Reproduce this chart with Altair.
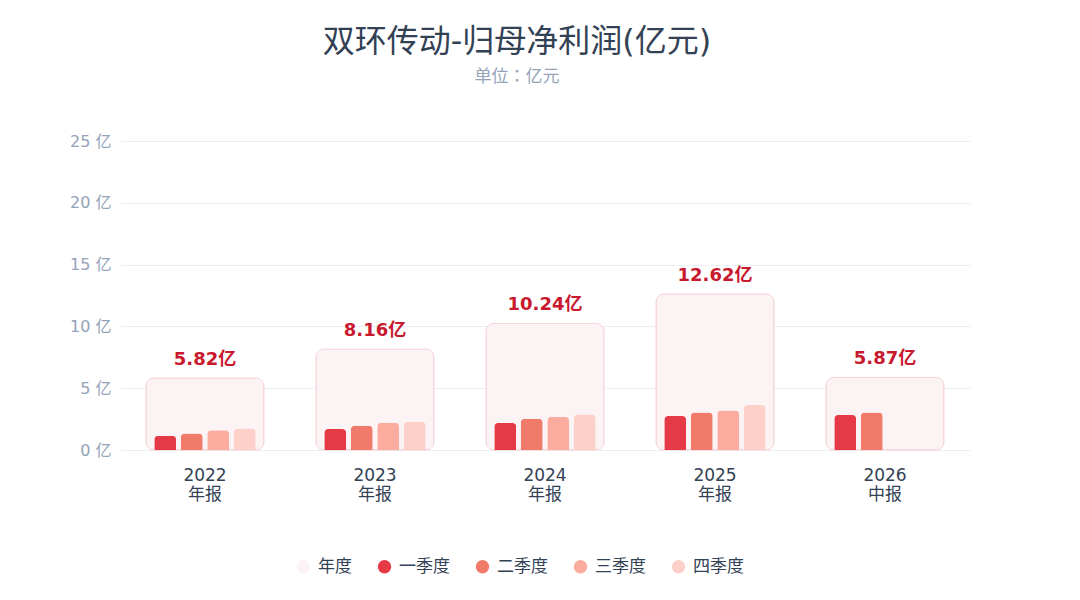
import altair as alt
import pandas as pd

years = ["2022", "2023", "2024", "2025", "2026"]
periods = ["年报", "年报", "年报", "年报", "中报"]
annual = [5.82, 8.16, 10.24, 12.62, 5.87]
quarters = ["一季度", "二季度", "三季度", "四季度"]
q1 = [1.16, 1.69, 2.19, 2.75, 2.83]
q2 = [1.33, 1.97, 2.52, 3.03, 3.04]
q3 = [1.60, 2.21, 2.66, 3.20, None]
q4 = [1.73, 2.29, 2.87, 3.64, None]

series_names = ["年度"] + quarters
series_colors = ["#fcf3f4", "#e63946", "#f07b6a", "#fcab9f", "#fdd0ca"]

cats = [f"{y} {p}" for y, p in zip(years, periods)]

annual_df = pd.DataFrame({
    "cat": cats,
    "value": annual,
    "series": ["年度"] * len(cats),
    "label": [f"{v:.2f}亿" for v in annual],
})

rows = []
for i, c in enumerate(cats):
    for qn, arr in zip(quarters, [q1, q2, q3, q4]):
        if arr[i] is not None:
            rows.append({"cat": c, "quarter": qn, "value": arr[i]})
q_df = pd.DataFrame(rows)

font = "DejaVu Sans, Noto Sans CJK JP, sans-serif"

x_enc = alt.X(
    "cat:N",
    sort=cats,
    scale=alt.Scale(domain=cats, paddingInner=0.372, paddingOuter=0.186),
    axis=alt.Axis(
        title=None, labelAngle=0, ticks=False, domain=False,
        labelExpr="split(datum.label, ' ')", labelFontSize=17,
        labelColor="#334155", labelPadding=17, labelLineHeight=19,
        labelFont=font,
    ),
)
y_enc = alt.Y(
    "value:Q",
    scale=alt.Scale(domain=[0, 25]),
    axis=alt.Axis(
        title=None, values=[0, 5, 10, 15, 20, 25], ticks=False, domain=False,
        labelExpr="datum.value + ' 亿'", labelFontSize=16, labelColor="#94a3b8",
        labelPadding=9, gridColor="#eceef3", labelFont=font,
    ),
)
color_scale = alt.Scale(domain=series_names, range=series_colors)

box = alt.Chart(annual_df).mark_bar(
    width=alt.RelativeBandSize(1.105),
    cornerRadius=8,
    stroke="#f6d3d8",
    strokeWidth=1,
).encode(
    x=x_enc,
    y=y_enc,
    color=alt.Color(
        "series:N", scale=color_scale,
        legend=alt.Legend(
            title=None, orient="none", direction="horizontal",
            legendX=175, legendY=417, symbolType="circle", symbolSize=180,
            symbolStrokeWidth=0, labelFontSize=17, labelColor="#334155",
            labelFont=font, labelOffset=6, columnPadding=24, padding=0,
        ),
    ),
)

labels = alt.Chart(annual_df).mark_text(
    fontSize=18, fontWeight="bold", color="#c8192e", dy=-13,
    baseline="alphabetic", font=font,
).encode(x=x_enc, y=y_enc, text="label:N")

qbars = alt.Chart(q_df).mark_bar(
    cornerRadiusTopLeft=4, cornerRadiusTopRight=4,
).encode(
    x=x_enc,
    xOffset=alt.XOffset(
        "quarter:N", sort=quarters,
        scale=alt.Scale(domain=quarters, paddingInner=0.17, paddingOuter=0.1),
    ),
    y=y_enc,
    color=alt.Color("quarter:N", scale=color_scale, legend=None),
)

chart = alt.layer(box, qbars, labels).properties(
    width=850,
    height=309,
    padding={"left": 112, "top": 133, "right": 102, "bottom": 142},
    autosize=alt.AutoSizeParams(type="none"),
    background="#ffffff",
    title=alt.TitleParams(
        text="双环传动-归母净利润(亿元)",
        subtitle="单位：亿元",
        anchor="middle",
        fontSize=32,
        fontWeight="normal",
        color="#334155",
        font=font,
        subtitleFont=font,
        subtitleFontSize=17,
        subtitleColor="#94a3b8",
        subtitlePadding=10,
        offset=47,
        dx=-28,
    ),
).configure_view(stroke=None)

chart.save("out.html", embed_options={"renderer": "svg", "actions": False})
